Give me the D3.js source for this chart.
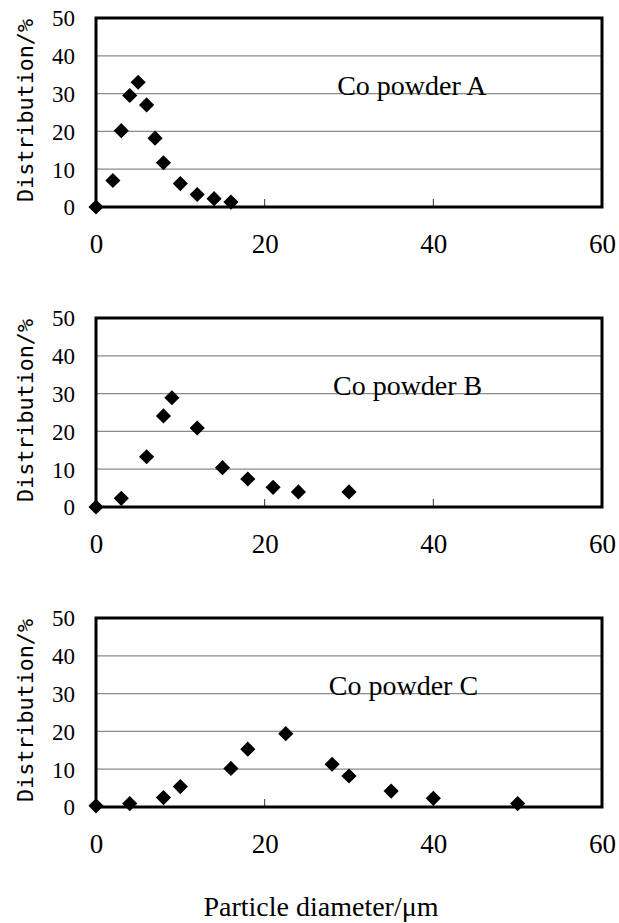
<!DOCTYPE html>
<html>
<head>
<meta charset="utf-8">
<script src="https://cdn.jsdelivr.net/npm/d3@7"></script>
<style>
  body { margin: 0; background: #fff; }
  text { fill: #000; }
  .serif text, text.serif { font-family: "Liberation Serif", "Times New Roman", serif; }
</style>
</head>
<body>
<svg id="chart" width="619" height="923"></svg>
<script>
// size distribution of the three Co powders (diameter in um, share in %)
var sizeA = [0, 2, 3, 4, 5, 6, 7, 8, 10, 12, 14, 16];
var distA = [0, 7, 20.2, 29.5, 33, 27, 18.2, 11.7, 6.2, 3.3, 2.2, 1.3];

var sizeB = [0, 3, 6, 8, 9, 12, 15, 18, 21, 24, 30];
var distB = [0, 2.3, 13.3, 24.1, 28.9, 20.9, 10.4, 7.4, 5.2, 4, 4];

var sizeC = [0, 4, 8, 10, 16, 18, 22.5, 28, 30, 35, 40, 50];
var distC = [0.3, 0.9, 2.5, 5.4, 10.2, 15.3, 19.4, 11.3, 8.2, 4.2, 2.3, 0.9];

var panelNames = ["Co powder A", "Co powder B", "Co powder C"];
var xTicks = [0, 20, 40, 60];
var yTicks = [0, 10, 20, 30, 40, 50];
var yTitle = "Distribution/%";
var xTitle = "Particle diameter/\u03bcm";

var mono = "DejaVu Sans Mono";

var svg = d3.select("#chart");

var panels = [
  {name: panelNames[0], xs: sizeA, ys: distA, top: 18,  labelAt: 28.6},
  {name: panelNames[1], xs: sizeB, ys: distB, top: 318, labelAt: 28.1},
  {name: panelNames[2], xs: sizeC, ys: distC, top: 618, labelAt: 27.6}
];

var x = d3.scaleLinear().domain([0, 60]).range([96, 602]);

panels.forEach(function(p) {
  var bottom = p.top + 189;
  var y = d3.scaleLinear().domain([0, 50]).range([bottom, p.top]);
  var g = svg.append("g");

  // grid lines
  g.selectAll(".grid")
    .data(yTicks.slice(1, -1))
    .enter().append("line")
    .attr("x1", x(0)).attr("x2", x(60))
    .attr("y1", function(d) { return y(d); })
    .attr("y2", function(d) { return y(d); })
    .style("stroke", "#8a8a8a")
    .style("stroke-width", 1.2);

  // small inner ticks on the bottom
  g.selectAll(".tk")
    .data(xTicks.slice(1, -1))
    .enter().append("line")
    .attr("x1", function(d) { return x(d); })
    .attr("x2", function(d) { return x(d); })
    .attr("y1", bottom).attr("y2", bottom - 8)
    .style("stroke", "#333")
    .style("stroke-width", 1);

  // frame
  g.append("rect")
    .attr("x", x(0)).attr("y", p.top)
    .attr("width", x(60) - x(0)).attr("height", bottom - p.top)
    .style("fill", "none")
    .style("stroke", "#000")
    .style("stroke-width", 3);

  // y axis labels
  var ya = g.append("g")
    .attr("class", "serif")
    .attr("transform", "translate(" + x(0) + ",0)")
    .call(d3.axisLeft(y).tickValues(yTicks).tickSize(0).tickPadding(21))
    .attr("font-size", 23);
  ya.select(".domain").remove();
  ya.selectAll("text")
    .attr("dy", "0.34em");

  // x axis labels
  var xa = g.append("g")
    .attr("class", "serif")
    .attr("transform", "translate(0," + bottom + ")")
    .call(d3.axisBottom(x).tickValues(xTicks).tickSize(0).tickPadding(27))
    .attr("font-size", 27);
  xa.select(".domain").remove();

  // y title
  g.append("text")
    .attr("transform", "translate(33," + ((p.top + bottom) / 2 - 2) + ") rotate(-90)")
    .attr("text-anchor", "middle")
    .attr("textLength", 183)
    .attr("lengthAdjust", "spacingAndGlyphs")
    .attr("font-family", mono)
    .attr("font-size", 21)
    .text(yTitle);

  // powder name
  g.append("text")
    .attr("class", "serif")
    .attr("x", x(p.labelAt))
    .attr("y", y(30) + 1)
    .attr("font-size", 28)
    .text(p.name);

  // diamond markers
  var pts = p.xs.map(function(v, i) { return [v, p.ys[i]]; });
  g.selectAll(".pt")
    .data(pts)
    .enter().append("path")
    .attr("d", d3.symbol(d3.symbolSquare, 115))
    .attr("transform", function(d) {
      return "translate(" + x(d[0]) + "," + y(d[1]) + ") rotate(45)";
    })
    .style("fill", "#000");
});

svg.append("text")
  .attr("class", "serif")
  .attr("x", 321)
  .attr("y", 916)
  .attr("text-anchor", "middle")
  .attr("font-size", 28)
  .text(xTitle);
</script>
</body>
</html>
